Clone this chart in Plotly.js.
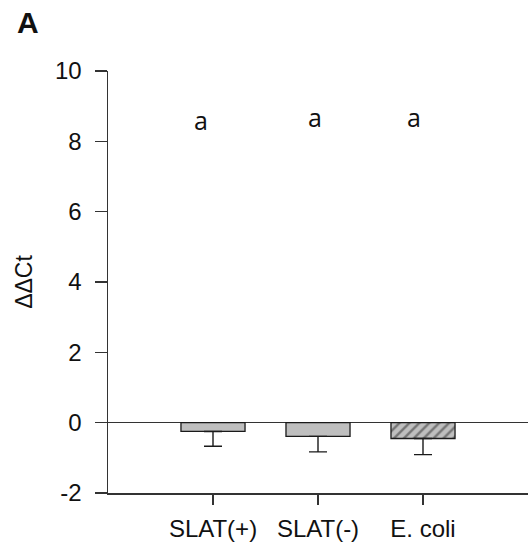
<!DOCTYPE html>
<html><head><meta charset="utf-8">
<script src="https://cdn.plot.ly/plotly-3.0.1.min.js"></script>
<style>body{margin:0;background:#fff}#c{width:528px;height:550px}</style>
</head><body><div id="c"></div>
<script>
var categories = ["SLAT(+)", "SLAT(-)", "E. coli"];
var values = [-0.25, -0.39, -0.45];
var errors = [0.42, 0.44, 0.46];
var letters = ["a", "a", "a"];
var letterY = [8.6, 8.7, 8.7];
var letterXOffset = [-0.11, -0.03, -0.09];
var yTicks = [-2, 0, 2, 4, 6, 8, 10];
var yTickText = ["-2", "0", "2", "4", "6", "8", "10"];

var xpos = categories.map(function(_, i){ return i; });
var trace = {
  type: 'bar', x: xpos, y: values, width: 0.61,
  marker: {
    color: '#bfbfbf',
    line: {color: '#1a1a1a', width: 1.3},
    pattern: {shape: ['', '', '/'], bgcolor: '#bfbfbf', fgcolor: '#2a2a2a', size: 7, solidity: 0.35, fillmode: 'overlay'}
  },
  error_y: {type: 'data', symmetric: false, array: [0,0,0], arrayminus: errors, color: '#1a1a1a', thickness: 1.4, width: 9}
};

var annotations = letters.map(function(t, i){
  return {x: xpos[i] + letterXOffset[i], y: letterY[i], xref: 'x', yref: 'y', text: t, showarrow: false,
    font: {family: 'Open Sans, Liberation Sans, sans-serif', size: 25, color: '#111'}};
});
annotations.push({x: (27.5-108)/420, y: 1 + (71-22.5)/422, xref: 'paper', yref: 'paper', xanchor: 'center', yanchor: 'middle',
  text: '<b>A</b>', showarrow: false,
  font: {family: 'Liberation Sans, Arial, sans-serif', size: 30, color: '#111'}});

var layout = {
  width: 528, height: 550,
  margin: {l: 108, r: 0, t: 71, b: 57},
  paper_bgcolor: '#fff', plot_bgcolor: '#fff',
  showlegend: false,
  font: {family: 'Liberation Sans, Arial, sans-serif', color: '#111', size: 22},
  xaxis: {
    range: [-1, 3], tickvals: xpos, ticktext: categories,
    showline: true, linecolor: '#333', linewidth: 1.5, showgrid: false, zeroline: false,
    ticks: 'outside', ticklen: 10, tickcolor: '#333', tickwidth: 1.3,
    tickfont: {size: 24}, ticklabelstandoff: 4
  },
  yaxis: {
    range: [-2, 10], tickvals: yTicks, ticktext: yTickText,
    showline: true, linecolor: '#333', linewidth: 1.5, showgrid: false,
    zeroline: true, zerolinecolor: '#333', zerolinewidth: 1.3,
    ticks: 'outside', ticklen: 12, tickcolor: '#333', tickwidth: 1.3,
    tickfont: {size: 24}, ticklabelstandoff: 8,
    title: {text: 'ΔΔCt', font: {size: 23}, standoff: 16}
  },
  annotations: annotations
};
Plotly.newPlot('c', [trace], layout, {displayModeBar: false, staticPlot: true});
</script></body></html>
